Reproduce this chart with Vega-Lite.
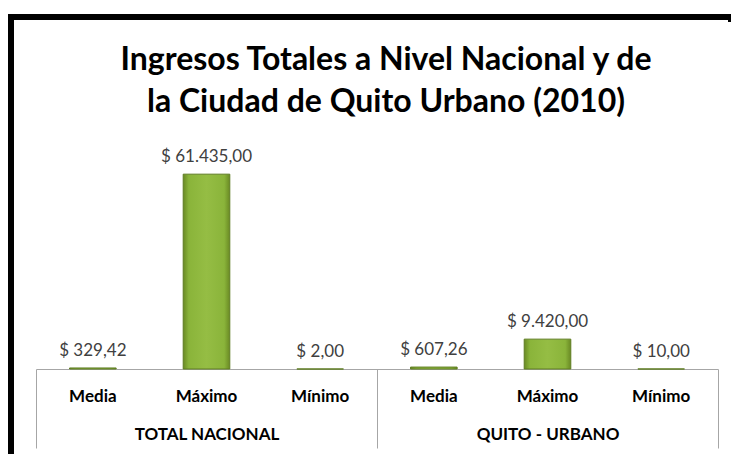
{
  "$schema": "https://vega.github.io/schema/vega-lite/v6.json",
  "width": 720,
  "height": 437,
  "autosize": "none",
  "padding": {"left": 11, "top": 17, "right": 0, "bottom": 0},
  "background": "white",
  "config": {"view": {"stroke": "black", "strokeWidth": 6, "strokeDash": [725, 1150, 445, 10]}, "font": "Lato"},
  "title": {
    "text": ["Ingresos Totales a Nivel Nacional y de", "la Ciudad de Quito Urbano (2010)"],
    "font": "Lato", "fontSize": 32, "fontWeight": "bold", "color": "black",
    "anchor": "middle", "offset": -102, "lineHeight": 42, "dx": 15
  },
  "data": {"values": [
    {"grupo": "TOTAL NACIONAL", "stat": "Media", "key": "TOTAL NACIONAL|Media", "valor": 329.42, "etiqueta": "$ 329,42"},
    {"grupo": "TOTAL NACIONAL", "stat": "Máximo", "key": "TOTAL NACIONAL|Máximo", "valor": 61435, "etiqueta": "$ 61.435,00"},
    {"grupo": "TOTAL NACIONAL", "stat": "Mínimo", "key": "TOTAL NACIONAL|Mínimo", "valor": 2, "etiqueta": "$ 2,00"},
    {"grupo": "QUITO - URBANO", "stat": "Media", "key": "QUITO - URBANO|Media", "valor": 607.26, "etiqueta": "$ 607,26"},
    {"grupo": "QUITO - URBANO", "stat": "Máximo", "key": "QUITO - URBANO|Máximo", "valor": 9420, "etiqueta": "$ 9.420,00"},
    {"grupo": "QUITO - URBANO", "stat": "Mínimo", "key": "QUITO - URBANO|Mínimo", "valor": 10, "etiqueta": "$ 10,00"}
  ]},
  "layer": [
    {
      "layer": [
        {
          "mark": {
            "type": "bar",
            "fill": {
              "gradient": "linear", "x1": 0, "y1": 0, "x2": 1, "y2": 0,
              "stops": [
                {"offset": 0, "color": "#6a8a24"},
                {"offset": 0.12, "color": "#8ab43a"},
                {"offset": 0.5, "color": "#95bd44"},
                {"offset": 0.88, "color": "#8ab43a"},
                {"offset": 1, "color": "#6a8a24"}
              ]
            },
            "stroke": "#5f7d22",
            "strokeWidth": 1
          },
          "encoding": {
            "x": {
              "field": "key", "type": "nominal", "sort": null,
              "scale": {"range": [25, 707], "paddingInner": 0.59, "paddingOuter": 0.295},
              "axis": {
                "orient": "bottom", "offset": -85, "title": null,
                "labelExpr": "split(datum.label, '|')[1]", "labelAngle": 0,
                "labelFont": "Lato", "labelFontSize": 17, "labelFontWeight": "bold",
                "labelColor": "black", "labelPadding": 19, "ticks": false,
                "domainColor": "#a6a6a6", "domainWidth": 1
              }
            },
            "y": {
              "field": "valor", "type": "quantitative",
              "scale": {"domain": [0, 70000], "range": [352, 130], "nice": false},
              "axis": null
            }
          }
        },
        {
          "mark": {"type": "text", "baseline": "bottom", "dy": -8, "font": "Lato", "fontSize": 17, "color": "#404040"},
          "encoding": {
            "x": {"field": "key", "type": "nominal", "sort": null},
            "y": {"field": "valor", "type": "quantitative"},
            "text": {"field": "etiqueta"}
          }
        }
      ]
    },
    {
      "mark": {"type": "text", "opacity": 0},
      "encoding": {
        "x": {
          "field": "grupo", "type": "nominal", "sort": null,
          "scale": {"range": [25, 707], "paddingInner": 0, "paddingOuter": 0},
          "axis": {
            "orient": "bottom", "offset": -85, "title": null, "labelAngle": 0,
            "tickBand": "extent", "tickSize": 79, "tickColor": "#a6a6a6", "tickWidth": 1,
            "domain": false, "labelPadding": -22,
            "labelFont": "Lato", "labelFontSize": 17, "labelFontWeight": "bold", "labelColor": "black"
          }
        },
        "text": {"value": ""}
      }
    }
  ],
  "resolve": {"scale": {"x": "independent"}, "axis": {"x": "independent"}}
}
